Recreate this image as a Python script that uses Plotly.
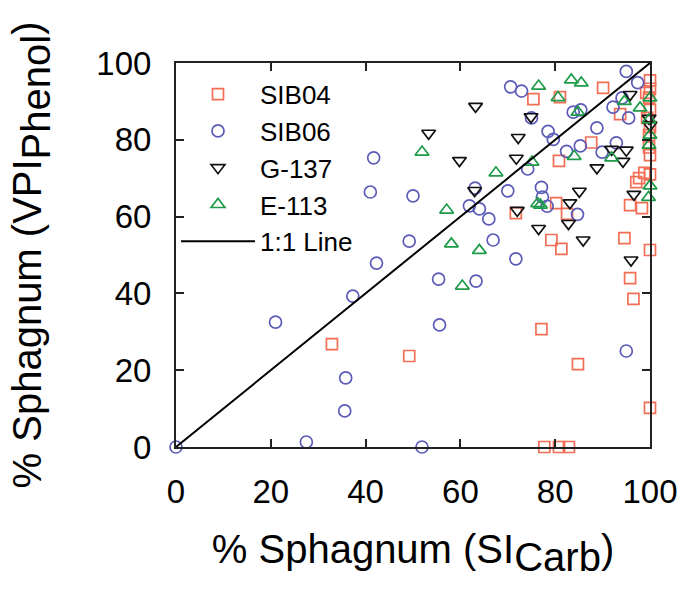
import plotly.graph_objects as go

# ---- data ----
sib04_x = [32.9, 49.2, 71.7, 75.4, 77.1, 77.7, 79.2, 80.2, 80.8, 80.8, 81.0, 81.3, 82.5, 82.9,
           84.8, 87.6, 90.1, 93.7, 94.6, 95.8, 95.8, 96.5, 97.1, 97.7, 98.3, 98.8, 100, 100,
           100, 100, 100, 99.2, 99.8, 100, 99.4, 100, 99.8, 99.8, 100]
sib04_y = [26.8, 23.7, 60.9, 90.6, 30.7, 0, 53.9, 63.5, 74.5, 0, 91.1, 51.6, 60.7, 0,
           21.6, 79.3, 93.5, 86.7, 54.4, 63.0, 44.0, 38.6, 69.0, 70.0, 62.2, 71.4, 71.0, 51.3,
           10.2, 95.5, 93.3, 92.2, 91.0, 87.8, 85.7, 83.3, 81.2, 78.0, 76.0]

sib06_x = [0, 21.0, 27.5, 35.8, 35.6, 37.3, 41.7, 41.0, 42.3, 49.2, 50.0, 51.9, 55.4, 55.6,
           61.9, 63.1, 63.3, 64.0, 66.0, 66.9, 70.0, 70.6, 71.7, 72.9, 74.2, 75.0, 77.1, 77.3,
           78.3, 78.5, 79.6, 82.4, 83.8, 84.7, 85.3, 85.4, 88.8, 89.9, 92.2, 92.9, 94.1, 95.0,
           95.0, 95.5, 97.4]
sib06_y = [0, 32.5, 1.3, 18.0, 9.4, 39.3, 75.3, 66.4, 47.9, 53.6, 65.4, 0, 43.7, 31.8,
           62.8, 67.4, 43.2, 62.0, 59.4, 53.9, 66.7, 93.8, 49.0, 92.7, 72.4, 85.7, 67.6, 65.1,
           62.7, 82.2, 80.1, 77.0, 87.2, 60.6, 78.4, 87.8, 83.1, 76.8, 88.5, 79.2, 90.9, 97.8,
           25.0, 85.7, 94.9]

g137_x = [53.3, 59.8, 63.2, 63.0, 71.8, 72.2, 72.0, 74.9, 76.5, 83.1, 82.8, 85.1, 85.9, 88.8,
          91.9, 95.0, 94.3, 95.8, 96.6, 96.0, 99.8, 100]
g137_y = [81.7, 74.6, 88.7, 66.8, 75.2, 80.6, 61.6, 86.0, 56.9, 63.6, 58.2, 66.6, 53.9, 72.7,
          77.5, 77.3, 74.4, 91.8, 65.8, 48.7, 85.6, 83.8]

e113_x = [51.9, 57.1, 58.1, 60.4, 64.0, 67.5, 75.1, 76.3, 76.9, 76.5, 80.6, 83.4, 85.5, 84.8,
          84.0, 91.9, 94.6, 97.9, 100, 99.8, 100, 99.8, 100, 99.7]
e113_y = [76.8, 61.7, 52.9, 41.9, 51.2, 71.4, 74.2, 63.4, 63.0, 94.0, 91.0, 95.6, 94.8, 87.2,
          75.7, 75.3, 90.0, 88.3, 90.9, 85.2, 81.2, 78.6, 68.0, 65.0]

line_x = [0, 100]
line_y = [0, 100]

tick_vals = [0, 20, 40, 60, 80, 100]

FONT = "Arial, Liberation Sans, sans-serif"

fig = go.Figure()


def add_pts(x, y, name, symbol, color, size):
    fig.add_trace(go.Scatter(
        x=x, y=y, mode="markers", name=name, legendgroup=name, cliponaxis=False,
        marker=dict(symbol=symbol, size=size, color=color,
                    line=dict(color=color, width=1.7))))


add_pts(sib04_x, sib04_y, "SIB04", "square-open", "#F26E55", 11)
add_pts(sib06_x, sib06_y, "SIB06", "circle-open", "#5B5BB8", 12)
add_pts(g137_x, g137_y, "G-137", "triangle-down-open", "#111111", 12)
add_pts(e113_x, e113_y, "E-113", "triangle-up-open", "#1E9B48", 12)

fig.add_trace(go.Scatter(x=line_x, y=line_y, mode="lines", name="1:1 Line", legendgroup="line",
                         line=dict(color="black", width=2)))

axis_common = dict(
    range=[0, 100], tickvals=tick_vals, ticks="inside", ticklen=8, tickwidth=2,
    tickcolor="#222", showline=True, linecolor="#222", linewidth=2, mirror="ticks",
    showgrid=False, zeroline=False, tickfont=dict(family=FONT, size=33, color="black"),
)

fig.update_layout(
    width=690, height=590,
    margin=dict(l=176, r=34, t=63, b=143),
    paper_bgcolor="white", plot_bgcolor="white",
    font=dict(family=FONT, color="black"),
    xaxis=dict(**axis_common, ticklabelstandoff=14,
               title=dict(text='% Sphagnum (SI<sub><span style="font-size:40px">Carb</span></sub>)',
                          font=dict(family=FONT, size=40), standoff=26)),
    yaxis=dict(**axis_common, ticklabelstandoff=16,
               title=dict(text='% Sphagnum (VPI<sub><span style="font-size:40px">Phenol</span></sub>)',
                          font=dict(family=FONT, size=40), standoff=42)),
    showlegend=True,
    legend=dict(x=0.0, y=0.98, xanchor="left", yanchor="top", bgcolor="rgba(0,0,0,0)",
                font=dict(family=FONT, size=26), itemwidth=74, tracegroupgap=0,
                itemsizing="trace"),
)

fig.write_html("out.html")
